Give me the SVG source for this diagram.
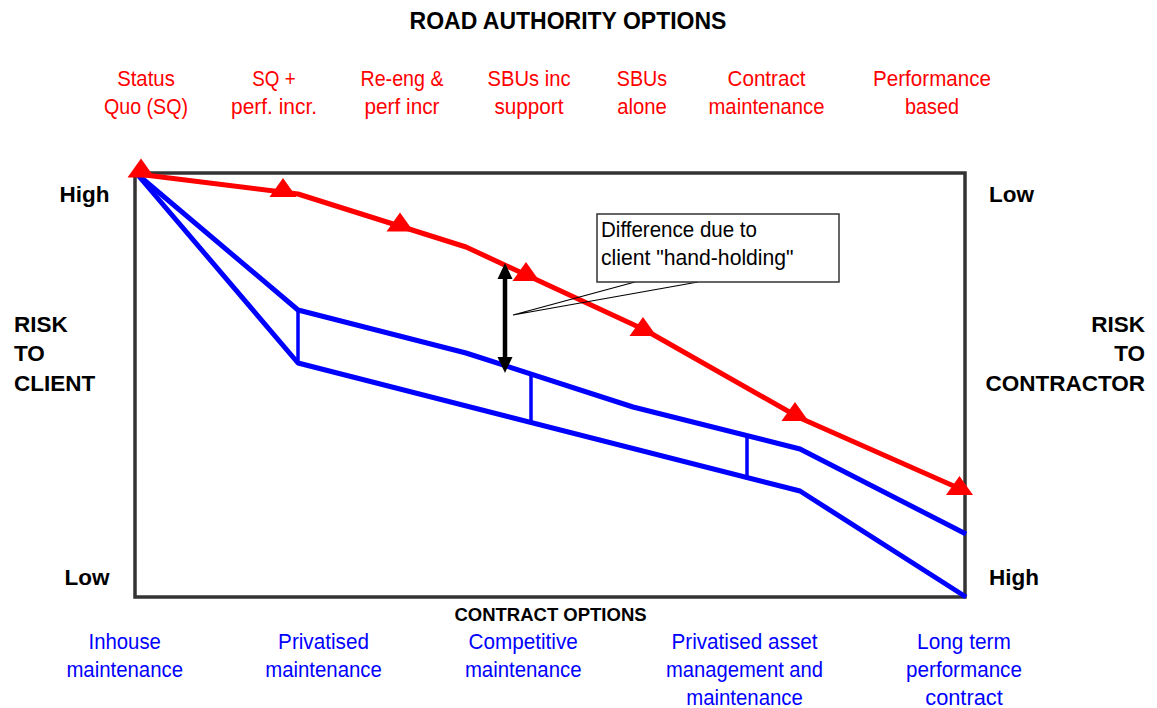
<svg xmlns="http://www.w3.org/2000/svg" width="1157" height="708" viewBox="0 0 1157 708">
  <style>
    text { font-family: "Liberation Sans", Arial, sans-serif; }
    .title { font-size: 23px; font-weight: bold; fill: #000; text-anchor: middle; }
    .axis { font-size: 22.5px; font-weight: bold; fill: #000; }
    .xcap { font-size: 18.5px; font-weight: bold; fill: #000; text-anchor: middle; }
    .ra { font-size: 22px; fill: #FF0000; text-anchor: middle; }
    .co { font-size: 22px; fill: #0000FF; text-anchor: middle; }
    .note { font-size: 22px; fill: #000; }
    .frame { fill: none; stroke: #333333; stroke-width: 3.5; }
    .red { fill: none; stroke: #FF0000; stroke-width: 5; stroke-linejoin: round; }
    .blue { fill: none; stroke: #0000FF; stroke-width: 5; stroke-linejoin: round; }
    .tie { stroke: #0000FF; stroke-width: 3.5; }
    .tri { fill: #FF0000; }
  </style>
  <defs>
    <!-- red option marker: upright triangle, origin at apex -->
    <path id="mk" class="tri" d="M0,0 L13.5,19 L-13.5,19 Z"/>
  </defs>

  <!-- headings -->
  <g id="heading">
    <text class="title" x="568" y="29">ROAD AUTHORITY OPTIONS</text>
    <text class="xcap" x="550.5" y="621">CONTRACT OPTIONS</text>
  </g>

  <!-- road authority options (red) -->
  <g id="road-options">
    <text class="ra" x="146" y="86" textLength="57.7" lengthAdjust="spacingAndGlyphs">Status</text>
    <text class="ra" x="146" y="114" textLength="84" lengthAdjust="spacingAndGlyphs">Quo (SQ)</text>
    <text class="ra" x="274" y="86" textLength="43.3" lengthAdjust="spacingAndGlyphs">SQ +</text>
    <text class="ra" x="274" y="114" textLength="86" lengthAdjust="spacingAndGlyphs">perf. incr.</text>
    <text class="ra" x="402" y="86" textLength="83" lengthAdjust="spacingAndGlyphs">Re-eng &amp;</text>
    <text class="ra" x="402" y="114" textLength="75" lengthAdjust="spacingAndGlyphs">perf incr</text>
    <text class="ra" x="529" y="86" textLength="83" lengthAdjust="spacingAndGlyphs">SBUs inc</text>
    <text class="ra" x="529" y="114" textLength="69" lengthAdjust="spacingAndGlyphs">support</text>
    <text class="ra" x="642" y="86" textLength="50.4" lengthAdjust="spacingAndGlyphs">SBUs</text>
    <text class="ra" x="642" y="114" textLength="49.7" lengthAdjust="spacingAndGlyphs">alone</text>
    <text class="ra" x="766.5" y="86" textLength="78" lengthAdjust="spacingAndGlyphs">Contract</text>
    <text class="ra" x="766.5" y="114" textLength="116" lengthAdjust="spacingAndGlyphs">maintenance</text>
    <text class="ra" x="932" y="86" textLength="117.8" lengthAdjust="spacingAndGlyphs">Performance</text>
    <text class="ra" x="932" y="114" textLength="54" lengthAdjust="spacingAndGlyphs">based</text>
  </g>

  <!-- contract options (blue) -->
  <g id="contract-options">
    <text class="co" x="124.7" y="649" textLength="72.3" lengthAdjust="spacingAndGlyphs">Inhouse</text>
    <text class="co" x="124.7" y="677" textLength="116.6" lengthAdjust="spacingAndGlyphs">maintenance</text>
    <text class="co" x="323.5" y="649" textLength="90.8" lengthAdjust="spacingAndGlyphs">Privatised</text>
    <text class="co" x="323.5" y="677" textLength="116.6" lengthAdjust="spacingAndGlyphs">maintenance</text>
    <text class="co" x="523.2" y="649" textLength="109.2" lengthAdjust="spacingAndGlyphs">Competitive</text>
    <text class="co" x="523.2" y="677" textLength="116.6" lengthAdjust="spacingAndGlyphs">maintenance</text>
    <text class="co" x="744.5" y="649" textLength="146" lengthAdjust="spacingAndGlyphs">Privatised asset</text>
    <text class="co" x="744.5" y="677" textLength="157" lengthAdjust="spacingAndGlyphs">management and</text>
    <text class="co" x="744.5" y="705" textLength="116.6" lengthAdjust="spacingAndGlyphs">maintenance</text>
    <text class="co" x="964" y="649" textLength="93.8" lengthAdjust="spacingAndGlyphs">Long term</text>
    <text class="co" x="964" y="677" textLength="115.8" lengthAdjust="spacingAndGlyphs">performance</text>
    <text class="co" x="964" y="705" textLength="77.5" lengthAdjust="spacingAndGlyphs">contract</text>
  </g>

  <!-- side axis labels -->
  <g id="client-axis">
    <text class="axis" x="109.5" y="202" text-anchor="end">High</text>
    <text class="axis" x="109.5" y="585" text-anchor="end">Low</text>
    <text class="axis" x="14" y="331.5">RISK</text>
    <text class="axis" x="14" y="361">TO</text>
    <text class="axis" x="14" y="390.5">CLIENT</text>
  </g>
  <g id="contractor-axis">
    <text class="axis" x="989" y="202">Low</text>
    <text class="axis" x="989" y="585">High</text>
    <text class="axis" x="1145" y="331.5" text-anchor="end">RISK</text>
    <text class="axis" x="1145" y="361" text-anchor="end">TO</text>
    <text class="axis" x="1145" y="390.5" text-anchor="end">CONTRACTOR</text>
  </g>

  <!-- chart frame -->
  <g id="frame">
    <rect class="frame" x="135" y="173" width="830" height="424"/>
  </g>

  <!-- curves and connectors -->
  <g id="connectors">
    <!-- contract options band -->
    <polyline class="blue" points="137,174 298,310 466,353 633,407 800,449 966,534"/>
    <polyline class="blue" points="137,174 298,363 800,491 966,597"/>
    <line class="tie" x1="298" y1="310" x2="298" y2="363"/>
    <line class="tie" x1="531" y1="374" x2="531" y2="423"/>
    <line class="tie" x1="747" y1="436" x2="747" y2="478"/>
    <!-- road authority options -->
    <polyline class="red" points="137,174 298,194 466,247 645,330 800,418 965,491"/>
    <use href="#mk" x="141" y="158.5"/>
    <use href="#mk" x="283" y="178"/>
    <use href="#mk" x="400" y="212.5"/>
    <use href="#mk" x="526" y="262"/>
    <use href="#mk" x="643" y="317"/>
    <use href="#mk" x="795" y="402"/>
    <use href="#mk" x="959.5" y="476"/>
    <!-- gap between the two curves -->
    <line x1="505" y1="276" x2="505" y2="360" stroke="#000" stroke-width="4.5"/>
    <path d="M505,263 L512.5,279 L497.5,279 Z" fill="#000"/>
    <path d="M505,373 L512.5,357 L497.5,357 Z" fill="#000"/>
  </g>

  <!-- callout -->
  <g id="callout">
    <polyline points="635,282 513,315 698,282" fill="none" stroke="#000" stroke-width="1.2"/>
    <rect x="597" y="214" width="242" height="68" fill="#fff" stroke="#333" stroke-width="1.5"/>
    <text class="note" x="601" y="237" textLength="156" lengthAdjust="spacingAndGlyphs">Difference due to</text>
    <text class="note" x="601" y="265" textLength="192.6" lengthAdjust="spacingAndGlyphs">client "hand-holding"</text>
  </g>
</svg>
